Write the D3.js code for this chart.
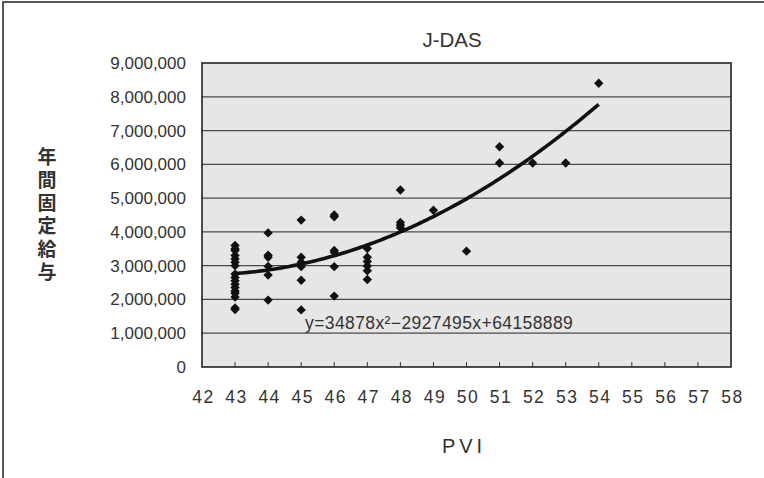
<!DOCTYPE html>
<html>
<head>
<meta charset="utf-8">
<script src="https://cdn.jsdelivr.net/npm/d3@7"></script>
<style>
  body { margin: 0; background: #fff; }
  text { font-family: "Liberation Sans", Arial, sans-serif; fill: #333; }
</style>
</head>
<body>
<svg id="chart"></svg>
<script>
const width = 764
const height = 478

// PVI score for each employee and yearly fixed pay (yen)
const pvi = [
  43, 43, 43, 43, 43, 43, 43, 43, 43, 43, 43, 43, 43, 43, 43, 43, 43,
  44, 44, 44, 44, 44, 44,
  45, 45, 45, 45, 45, 45,
  46, 46, 46, 46, 46, 46,
  47, 47, 47, 47, 47, 47,
  48, 48, 48, 48,
  49, 50, 51, 51, 52, 53, 54
]
const pay = [
  3600000, 3500000, 3450000, 3300000, 3200000, 3100000, 3000000, 2750000, 2650000,
  2550000, 2450000, 2350000, 2250000, 2180000, 2070000, 1750000, 1700000,
  3970000, 3310000, 3250000, 2980000, 2720000, 1980000,
  4350000, 3250000, 3100000, 2970000, 2570000, 1690000,
  4500000, 4450000, 3450000, 3400000, 2970000, 2100000,
  3510000, 3250000, 3120000, 2990000, 2850000, 2590000,
  5240000, 4280000, 4200000, 4120000,
  4640000, 3430000, 6520000, 6040000, 6040000, 6040000, 8400000
]

// polynomial trend (order 2) as shown in the chart: a*x^2 + b*x + c
const trendCoef = [34878, -2927495, 64158889]
const trendLabel = 'y=34878x²−2927495x+64158889'

const xTicks = d3.range(42, 59)
const yTicks = d3.range(0, 9000001, 1000000)

const margin = { left: 202, right: 33, top: 63, bottom: 111 }

const svg = d3.select('#chart').attr('width', width).attr('height', height)

// outer chart frame (right/bottom run off the picture)
svg.append('rect')
  .attr('x', 3).attr('y', 2)
  .attr('width', width + 10).attr('height', height + 10)
  .attr('fill', '#fff')
  .attr('stroke', '#222')
  .attr('stroke-width', 1.5)

const x = d3.scaleLinear().domain([42, 58]).range([margin.left, width - margin.right])
const y = d3.scaleLinear().domain([0, 9000000]).range([height - margin.bottom, margin.top])

// plot area
svg.append('rect')
  .attr('x', x(42)).attr('y', y(9000000))
  .attr('width', x(58) - x(42)).attr('height', y(0) - y(9000000))
  .attr('fill', '#e6e6e7')

// gridlines
svg.append('g')
  .selectAll('line')
  .data(yTicks.filter(d => d > 0 && d < 9000000))
  .enter().append('line')
  .attr('x1', x(42)).attr('x2', x(58))
  .attr('y1', d => y(d)).attr('y2', d => y(d))
  .attr('stroke', '#4a4a4a')
  .attr('stroke-width', 1.2)

// y axis labels
const yAxis = d3.axisLeft(y).tickValues(yTicks).tickSize(0).tickPadding(16)
  .tickFormat(d3.format(','))
const gy = svg.append('g').attr('transform', `translate(${x(42)},0)`).call(yAxis)
gy.select('.domain').remove()
gy.selectAll('text').style('font-size', '17px').attr('fill', '#333')

// x axis with small inner ticks
const xAxis = d3.axisBottom(x).tickValues(xTicks).tickSize(0).tickPadding(24)
const gx = svg.append('g').attr('transform', `translate(0,${y(0)})`).call(xAxis)
gx.select('.domain').remove()
gx.selectAll('text')
  .style('font-size', '17.5px')
  .style('letter-spacing', '1.5px')
  .attr('dx', '1')
  .attr('fill', '#333')

svg.append('g')
  .selectAll('line')
  .data(xTicks.filter(d => d > 42 && d < 58))
  .enter().append('line')
  .attr('x1', d => x(d)).attr('x2', d => x(d))
  .attr('y1', y(0)).attr('y2', y(0) - 5)
  .attr('stroke', '#333')
  .attr('stroke-width', 1)

// plot border
svg.append('rect')
  .attr('x', x(42)).attr('y', y(9000000))
  .attr('width', x(58) - x(42)).attr('height', y(0) - y(9000000))
  .attr('fill', 'none')
  .attr('stroke', '#222')
  .attr('stroke-width', 1.6)

// trend line
const trend = v => trendCoef[0] * v * v + trendCoef[1] * v + trendCoef[2]
const xs = d3.range(43, 54.001, 0.1)
svg.append('path')
  .datum(xs)
  .attr('d', d3.line().x(d => x(d)).y(d => y(trend(d))))
  .attr('fill', 'none')
  .attr('stroke', '#111')
  .attr('stroke-width', 3.6)
  .attr('stroke-linejoin', 'round')

// points (diamonds)
const diamond = d3.symbol().type(d3.symbolSquare).size(44)
svg.append('g')
  .selectAll('path')
  .data(pvi.map((p, i) => [p, pay[i]]))
  .enter().append('path')
  .attr('d', diamond)
  .attr('transform', d => `translate(${x(d[0])},${y(d[1])}) rotate(45)`)
  .attr('fill', '#111')

// equation, sits just above the 1,000,000 gridline
svg.append('text')
  .attr('x', 305).attr('y', 329)
  .style('font-size', '17.5px')
  .style('letter-spacing', '0.4px')
  .text(trendLabel)

// title
svg.append('text')
  .attr('x', 452).attr('y', 47)
  .attr('text-anchor', 'middle')
  .style('font-size', '20.5px')
  .text('J-DAS')

// x title
svg.append('text')
  .attr('x', 464).attr('y', 453)
  .attr('text-anchor', 'middle')
  .style('font-size', '20px')
  .style('letter-spacing', '4px')
  .text('PVI')

// y title, written vertically
svg.append('text')
  .attr('x', 47)
  .attr('y', 147)
  .attr('writing-mode', 'tb')
  .style('font-family', '"Noto Sans CJK JP", sans-serif')
  .style('font-weight', 'bold')
  .style('font-size', '19px')
  .style('letter-spacing', '4px')
  .attr('fill', '#222')
  .text('年間固定給与')
</script>
</body>
</html>
